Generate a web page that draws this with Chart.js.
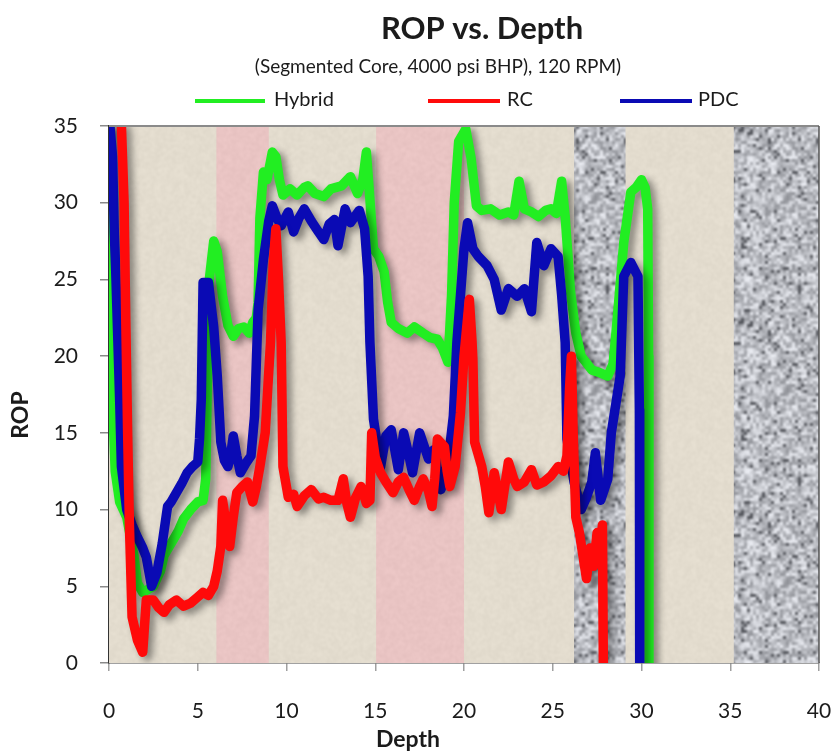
<!DOCTYPE html>
<html><head><meta charset="utf-8">
<script src="https://cdn.jsdelivr.net/npm/chart.js@4.4.1/dist/chart.umd.min.js"></script>
<style>html,body{margin:0;padding:0;background:#fff}#wrap{width:834px;height:755px}</style>
</head><body><div id="wrap"><canvas id="c" width="834" height="755"></canvas></div>
<script>
const titleText = 'ROP vs. Depth';
const subtitleText = '(Segmented Core, 4000 psi BHP), 120 RPM)';
const xTitleText = 'Depth';
const yTitleText = 'ROP';
const seriesNames = ['Hybrid', 'RC', 'PDC'];
const xTickValues = [0, 5, 10, 15, 20, 25, 30, 35, 40];
const yTickValues = [0, 5, 10, 15, 20, 25, 30, 35];

const hybridDepth = [0.05,0.12,0.2,0.35,0.6,1.0,1.4,1.6,1.9,2.2,2.5,2.9,3.1,3.3,3.6,3.9,4.2,4.6,5.0,5.3,5.45,5.55,5.65,5.9,6.1,6.4,6.7,7.0,7.3,7.6,7.9,8.1,8.3,8.4,8.5,8.7,8.9,9.2,9.4,9.6,9.8,10.2,10.6,11.0,11.2,11.6,12.1,12.5,13.1,13.6,14.0,14.3,14.5,14.65,14.9,15.2,15.5,15.7,15.9,16.3,16.8,17.2,17.7,18.1,18.5,18.8,19.1,19.3,19.45,19.7,20.1,20.4,20.7,21.0,21.5,22.0,22.5,22.8,23.1,23.4,23.8,24.2,24.6,24.9,25.2,25.5,25.7,26.0,26.3,26.6,27.2,27.7,28.1,28.4,28.6,29.0,29.4,29.7,30.0,30.2,30.35,30.4,30.42];
const hybridROP   = [35,25,17,12.5,10.5,9.5,7,5.2,4.6,4.8,5,6,7,7.4,8,8.6,9.4,10,10.5,10.6,12,19,25,27.5,26.8,23.9,22,21.3,21.8,21.9,21.5,22.2,22.5,23.5,29,32,31.5,33.3,33,31.5,30.5,30.9,30.5,31,31.1,30.6,30.4,30.9,31.1,31.7,30.6,31.5,33.3,31,27,26.5,25.5,23.5,22.2,21.8,21.5,21.9,21.5,21.2,21.1,20.5,19.6,24,30,34,34.8,32.9,29.8,29.5,29.6,29.2,29.4,29.2,31.4,29.6,29.4,29.1,29.5,29.6,29.3,31.4,29.1,24.2,21.5,20,19.1,18.9,18.7,19.5,22,27.4,30.7,31,31.5,31,29.6,20,0];

const rcDepth = [0.7,0.85,0.95,1.05,1.15,1.3,1.6,1.9,2.0,2.1,2.5,2.8,3.1,3.4,3.8,4.2,4.6,5.0,5.3,5.6,5.9,6.1,6.3,6.4,6.6,6.8,7.0,7.2,7.5,7.8,8.1,8.3,8.5,8.8,8.95,9.1,9.25,9.4,9.55,9.7,9.8,10.1,10.4,10.6,11.0,11.4,11.8,12.1,12.5,12.9,13.2,13.4,13.6,13.9,14.2,14.5,14.7,14.8,15.0,15.3,15.6,16.0,16.3,16.6,16.9,17.2,17.5,17.7,18.0,18.2,18.35,18.5,18.9,19.05,19.2,19.5,19.8,20.0,20.3,20.45,20.5,20.6,21.0,21.2,21.4,21.7,22.1,22.5,22.8,23.0,23.4,23.8,24.1,24.5,24.9,25.3,25.6,25.8,25.95,26.05,26.15,26.3,26.5,26.7,26.9,27.1,27.3,27.5,27.7,27.8,27.85];
const rcROP   = [35,30,22,15,9,3,1.5,0.7,2.4,4.1,4.1,3.6,3.3,3.8,4.1,3.7,3.9,4.3,4.6,4.4,5,6,7.6,10.6,9,7.6,9.5,11.1,11.5,11.8,10.5,11.5,12.8,15,18,20.9,26,28.3,25,20.9,12.8,10.8,11,10.2,10.9,11.3,10.7,10.8,10.6,10.6,12,10.4,9.5,10.8,11.5,10.4,10.6,15,13.4,12.4,11.8,11.1,11.8,12.1,11.3,10.6,11.5,12,11.2,10.2,12,14.6,14.1,12.5,11.5,12.8,16.3,20,23.7,21,19.8,14.4,12.8,11.5,9.8,12.4,10,13.1,12,11.5,11.8,12.6,11.6,11.8,12.2,12.8,12.5,13.5,18,20,15,9.5,8.5,7,5.5,7.5,6.3,8.5,7.8,9,0];

const pdcDepth = [0.05,0.2,0.3,0.38,0.5,0.6,0.7,1.0,1.3,1.6,1.9,2.1,2.4,2.7,3.0,3.3,3.5,3.8,4.1,4.4,4.7,5.0,5.1,5.2,5.3,5.6,5.9,6.1,6.3,6.5,6.7,6.85,7.0,7.2,7.4,7.7,8.0,8.2,8.4,8.7,9.0,9.2,9.5,9.7,10.1,10.4,10.7,11.0,11.4,11.8,12.1,12.4,12.7,12.9,13.3,13.6,14.1,14.4,14.6,14.7,14.9,15.3,15.6,15.9,16.3,16.6,16.9,17.1,17.5,18.0,18.3,18.7,19.1,19.4,19.6,20.0,20.2,20.5,20.8,21.3,21.7,22.1,22.5,23.0,23.4,23.8,24.1,24.5,24.9,25.3,25.5,25.7,25.8,26.2,26.6,26.9,27.2,27.4,27.7,28.1,28.3,28.8,29.0,29.4,29.8,29.88,29.9];
const pdcROP   = [35,33,28,25.5,21,17.2,12.8,10,9,8.2,7.5,6.9,5,5.9,7.8,10.2,10.5,11.1,11.7,12.4,12.8,13.1,14.6,17.2,24.8,24.8,21.9,18.7,14.4,13.2,12.8,13.5,14.8,13.5,12.4,13,13.5,16.1,23,26.3,28.8,29.8,28.9,28.5,29.4,28.1,29,29.6,28.8,28.1,27.6,28.6,28.9,27.2,29.6,28.7,29.5,28.3,25.2,20.9,15.9,12.8,14.8,15.2,12.6,15,13.5,12.4,15,13.3,13.9,11.3,13.1,16.1,20.9,27,28.7,27,26.5,25.9,25,23,24.4,23.9,24.4,22.9,27.4,25.9,27,26.5,24,20.9,14.6,11.8,10,10.8,11.8,13.7,10.6,12,15,18.7,25.2,26.1,25.2,16.5,0];

// rock bands along depth (shale = pink, granite = grey texture)
const bandFrom = [6.05, 15.05, 26.2, 35.2];
const bandTo   = [9.0, 20.0, 29.1, 40];
const bandKind = ['shale', 'shale', 'granite', 'granite'];

function pts(xs, ys) { return xs.map((v, i) => ({x: v, y: ys[i]})); }

// integer hash used only for the background rock textures
function ihash(x, y, s) {
  let h = (Math.imul(x, 374761393) + Math.imul(y, 668265263) + Math.imul(s, 144665)) | 0;
  h = Math.imul(h ^ (h >>> 13), 1274126177);
  h = h ^ (h >>> 16);
  return (h >>> 0) / 4294967296;
}
function makeTexture(N, cell, fn, blur) {
  const raw = document.createElement('canvas'); raw.width = N; raw.height = N;
  const rc = raw.getContext('2d');
  const img = rc.createImageData(N, N);
  for (let yy = 0; yy < N; yy++) for (let xx = 0; xx < N; xx++) {
    const c = fn(Math.floor(xx / cell), Math.floor(yy / cell));
    const k = (yy * N + xx) * 4;
    img.data[k] = c[0]; img.data[k + 1] = c[1]; img.data[k + 2] = c[2]; img.data[k + 3] = 255;
  }
  rc.putImageData(img, 0, 0);
  const big = document.createElement('canvas'); big.width = 3 * N; big.height = 3 * N;
  const bc = big.getContext('2d');
  for (let i = 0; i < 3; i++) for (let j = 0; j < 3; j++) bc.drawImage(raw, i * N, j * N);
  const out = document.createElement('canvas'); out.width = N; out.height = N;
  const oc = out.getContext('2d');
  oc.filter = 'blur(' + blur + 'px)';
  oc.drawImage(big, -N, -N);
  return out;
}
const graniteFn = (cx, cy) => {
  let g = 145 + ihash(cx, cy, 1) * 95;
  if (ihash(cx, cy, 2) < 0.08) g = 85;
  return [g - 3, g - 1, g + 5];
};
const beigeFn = (cx, cy) => {
  const d = (ihash(cx, cy, 3) - 0.5) * 10;
  return [227 + d, 220 + d, 206 + d];
};
const pinkFn = (cx, cy) => {
  const d = (ihash(cx, cy, 4) - 0.5) * 10;
  return [233 + d, 196 + d, 195 + d];
};

const FONT = 'Lato, "Open Sans", sans-serif';
const TXT = '#1b1b1b';
const colors = ['#22ee22', '#ff0a0a', '#0a0ab4'];

const decor = {
  id: 'decor',
  beforeDatasetsDraw(chart) {
    const {ctx, chartArea: a, scales: {x}} = chart;
    if (!chart.$tex) chart.$tex = {
      granite: ctx.createPattern(makeTexture(192, 3, graniteFn, 1.0), 'repeat'),
      beige: ctx.createPattern(makeTexture(128, 2, beigeFn, 0.8), 'repeat'),
      shale: ctx.createPattern(makeTexture(128, 2, pinkFn, 0.8), 'repeat')
    };
    ctx.save();
    ctx.fillStyle = chart.$tex.beige;
    ctx.fillRect(a.left, a.top, a.width, a.height);
    for (let i = 0; i < bandFrom.length; i++) {
      const l = x.getPixelForValue(bandFrom[i]), r = x.getPixelForValue(bandTo[i]);
      ctx.fillStyle = chart.$tex[bandKind[i]];
      ctx.fillRect(l, a.top, r - l, a.height);
    }
    ctx.restore();
  },
  beforeDatasetDraw(chart) {
    const ctx = chart.ctx;
    ctx.save();
    ctx.shadowColor = 'rgba(0,0,0,0.4)';
    ctx.shadowBlur = 7;
    ctx.shadowOffsetX = 5;
    ctx.shadowOffsetY = 4;
  },
  afterDatasetDraw(chart) { chart.ctx.restore(); },
  afterDraw(chart) {
    const {ctx, chartArea: a} = chart;
    ctx.save();
    ctx.strokeStyle = '#8a8a8a'; ctx.lineWidth = 2;
    ctx.beginPath(); ctx.moveTo(a.left, a.top); ctx.lineTo(a.right, a.top); ctx.stroke();
    ctx.strokeStyle = '#555'; ctx.lineWidth = 1.5;
    ctx.beginPath(); ctx.moveTo(a.right, a.top); ctx.lineTo(a.right, a.bottom); ctx.stroke();
    ctx.fillStyle = TXT; ctx.textBaseline = 'middle'; ctx.textAlign = 'center';
    ctx.font = 'bold 31px ' + FONT;
    ctx.fillText(titleText, 482, 29);
    ctx.font = '19px ' + FONT;
    ctx.fillText(subtitleText, 438, 67);
    ctx.font = 'bold 23px ' + FONT;
    ctx.fillText(xTitleText, 408, 740);
    ctx.save(); ctx.translate(21, 415); ctx.rotate(-Math.PI / 2);
    ctx.fillText(yTitleText, 0, 0); ctx.restore();
    const lx = [[195, 265, 274], [428, 500, 507], [620, 692, 698]];
    ctx.font = '20px ' + FONT; ctx.textAlign = 'left';
    chart.data.datasets.forEach((ds, i) => {
      ctx.strokeStyle = ds.borderColor; ctx.lineWidth = 4; ctx.lineCap = 'butt';
      ctx.beginPath(); ctx.moveTo(lx[i][0], 101); ctx.lineTo(lx[i][1], 101); ctx.stroke();
      ctx.fillStyle = TXT; ctx.fillText(ds.label, lx[i][2], 100);
    });
    ctx.restore();
  }
};

const lineDs = (i, xs, ys, order) => ({
  label: seriesNames[i], data: pts(xs, ys), borderColor: colors[i], backgroundColor: colors[i],
  borderWidth: 9.5, pointRadius: 0, tension: 0, fill: false, order,
  borderJoinStyle: 'round', borderCapStyle: 'round'
});

new Chart(document.getElementById('c'), {
  type: 'line',
  data: {
    datasets: [
      lineDs(0, hybridDepth, hybridROP, 2),
      lineDs(1, rcDepth, rcROP, 0),
      lineDs(2, pdcDepth, pdcROP, 1)
    ]
  },
  options: {
    responsive: false, animation: false,
    layout: {padding: {left: 0, right: 15, top: 126, bottom: 0}},
    plugins: {legend: {display: false}, title: {display: false}, tooltip: {enabled: false}},
    scales: {
      x: {
        type: 'linear', min: 0, max: 40,
        afterBuildTicks: s => { s.ticks = xTickValues.map(v => ({value: v})); },
        afterFit: s => { s.height = 92; s.paddingRight = 0; s.paddingLeft = 0; },
        ticks: {font: {family: FONT, size: 21}, color: TXT, padding: 28, maxRotation: 0},
        grid: {drawOnChartArea: false, tickLength: 8, color: '#a0a0a0', lineWidth: 1.5},
        border: {color: '#444', width: 1.5}
      },
      y: {
        type: 'linear', min: 0, max: 35,
        afterBuildTicks: s => { s.ticks = yTickValues.map(v => ({value: v})); },
        afterFit: s => { s.width = 109; s.paddingTop = 0; s.paddingBottom = 0; },
        ticks: {font: {family: FONT, size: 21}, color: TXT, padding: 22},
        grid: {drawOnChartArea: false, tickLength: 9, color: '#8a8a8a', lineWidth: 1.5},
        border: {color: '#333', width: 1.5}
      }
    }
  },
  plugins: [decor]
});
</script>
</body></html>
